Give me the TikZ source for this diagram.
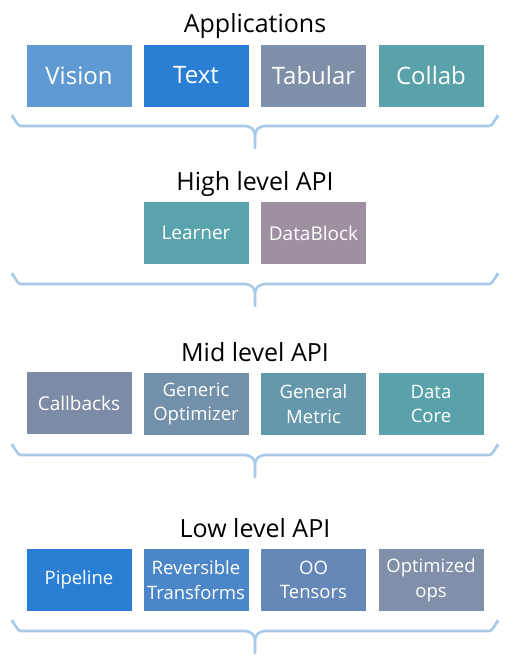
\documentclass[tikz,border=0pt]{standalone}
\usepackage{fontspec}
\setmainfont{Open Sans}
\begin{document}
\begin{tikzpicture}[x=1pt,y=-1pt,
  box/.style={fill=#1,draw=white,line width=0.6pt,minimum width=106pt,minimum height=63pt,inner sep=0pt,text=white,align=center},
  title/.style={anchor=base,font=\fontsize{25}{30}\selectfont,text=black},
  big/.style={font=\fontsize{24}{28}\selectfont},
  mid/.style={font=\fontsize{19}{23}\selectfont},
  two/.style={font=\fontsize{18.5}{24.5}\selectfont},
  bracestyle/.style={draw=bracec,line width=2.6pt,line cap=round}]
\definecolor{cvision}{HTML}{5F9BD2}
\definecolor{ctext}{HTML}{2A7FD5}
\definecolor{ctab}{HTML}{7F8FA7}
\definecolor{ccol}{HTML}{5AA2A9}
\definecolor{clearn}{HTML}{5AA3AC}
\definecolor{cdb}{HTML}{9E8FA1}
\definecolor{ccb}{HTML}{7E8BA7}
\definecolor{cgo}{HTML}{7290A9}
\definecolor{cgm}{HTML}{6698AB}
\definecolor{cdc}{HTML}{5AA2A9}
\definecolor{cpipe}{HTML}{2A7FD5}
\definecolor{crev}{HTML}{4A86C8}
\definecolor{coo}{HTML}{6688B8}
\definecolor{copt}{HTML}{8190A8}
\definecolor{bracec}{HTML}{A9C9E8}
\useasboundingbox (0,0) rectangle (517,660);
\fill[white] (0,0) rectangle (517,660);
% titles
\node[title] (t1) at (255,33) {Applications};
\node[title] (t2) at (255,190) {High level API};
\node[title] (t3) at (255,361) {Mid level API};
\node[title] (t4) at (255,537) {Low level API};
% row 1
\node[box=cvision,big] (vision) at (79,75.5) {Vision};
\node[box=ctext,big] (text) at (196,75.5) {Text};
\node[box=ctab,big] (tab) at (313.5,75.5) {Tabular};
\node[box=ccol,big] (col) at (431,75.5) {Collab};
% row 2
\node[box=clearn,mid] (learner) at (196,233) {Learner};
\node[box=cdb,mid] (datablock) at (313.5,233) {DataBlock};
% row 3
\node[box=ccb,mid] (callbacks) at (79,403) {Callbacks};
\node[box=cgo,two] (genopt) at (196,404) {Generic\\Optimizer};
\node[box=cgm,two] (genmet) at (313.5,404) {General\\Metric};
\node[box=cdc,two] (datacore) at (431,404) {Data\\Core};
% row 4
\node[box=cpipe,two] (pipeline) at (79,580) {Pipeline};
\node[box=crev,two] (revtr) at (196,580) {Reversible\\Transforms};
\node[box=coo,two] (oot) at (313.5,580) {OO\\Tensors};
\node[box=copt,two] (optops) at (431,580) {Optimized\\ops};
% braces
\foreach \y in {126,284,455,631}{
  \draw[bracestyle] (12,\y-9) to[out=90,in=180] (21,\y) -- (245,\y)
     to[out=0,in=90] (255,\y+9) -- (255,\y+22);
  \draw[bracestyle] (255,\y+9) to[out=90,in=180] (265,\y) -- (489,\y)
     to[out=0,in=90] (498,\y-9);
}
\end{tikzpicture}
\end{document}
